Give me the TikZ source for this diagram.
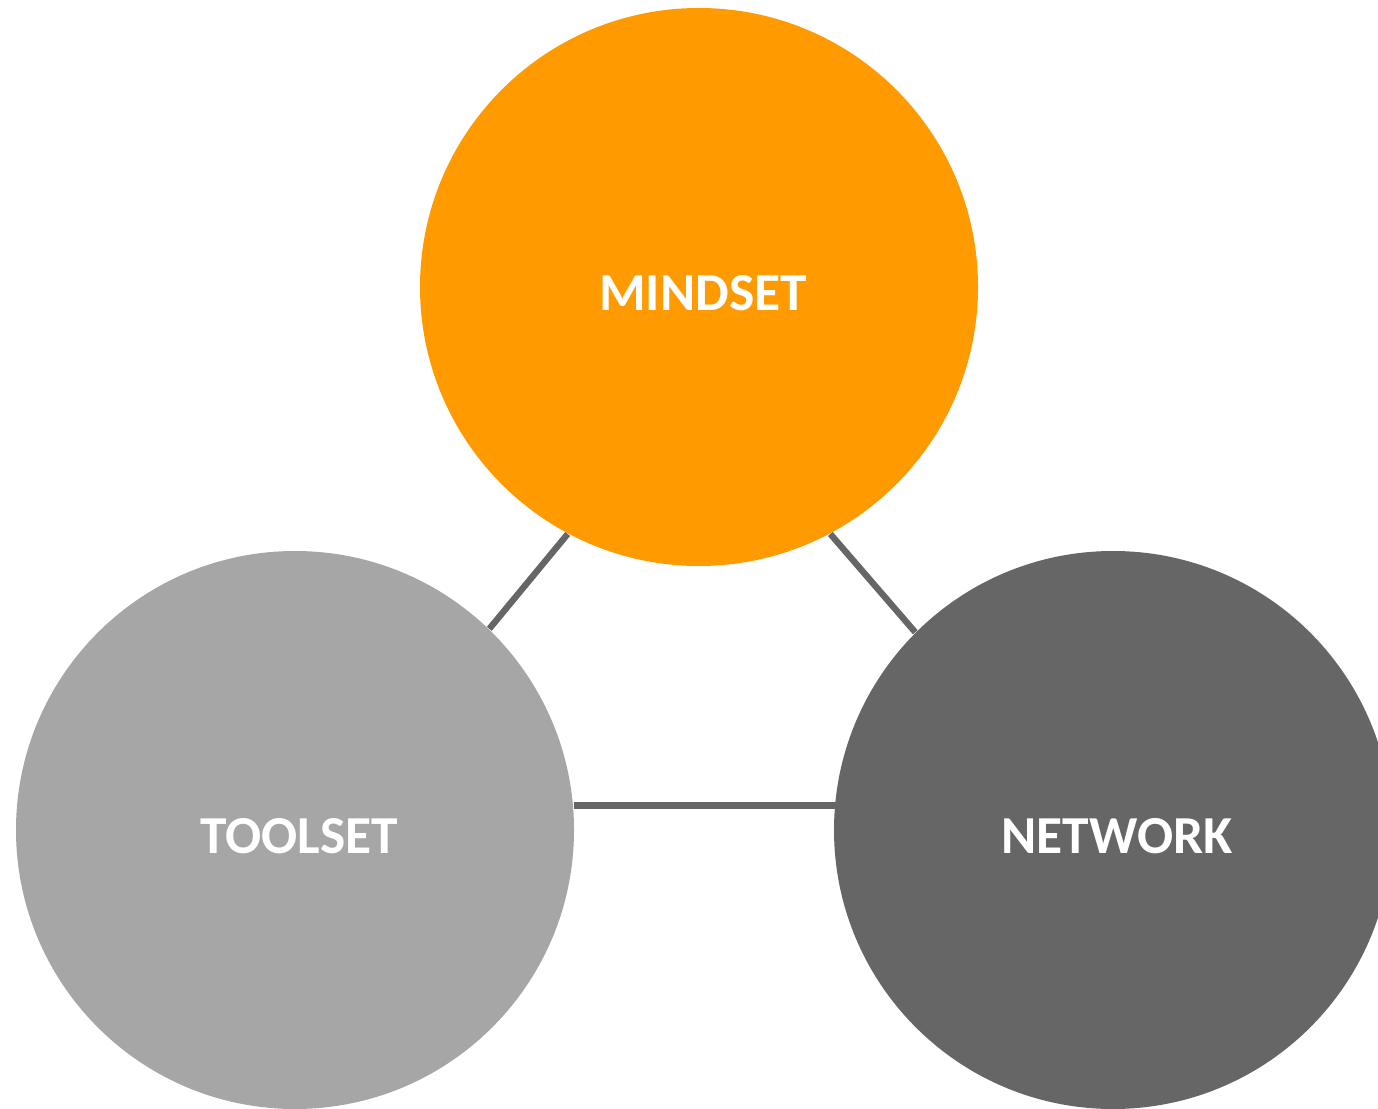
\documentclass[tikz,border=0pt]{standalone}
\usepackage{fontspec}
\setmainfont{Carlito}
\usepackage{tikz}

\definecolor{mindorange}{HTML}{FF9B00}
\definecolor{toollight}{HTML}{A6A6A6}
\definecolor{netdark}{HTML}{666666}

\tikzset{
	bubble/.style={circle, minimum size=5.58cm, inner sep=0pt, text=white, text height=0.47cm,
		font=\fontsize{15.2}{18}\selectfont\bfseries, execute at begin node=\hspace{0.08cm}},
	link/.style={netdark, line width=1.8pt}
}

\begin{document}
\begin{tikzpicture}
	\useasboundingbox (0,0) rectangle (13.78,11.08);
	\clip (0,0) rectangle (13.78,11.08);
	\node[bubble, fill=mindorange] (mind) at (6.99,8.21) {MINDSET};
	\node[bubble, fill=toollight] (tool) at (2.95,2.78) {TOOLSET};
	\node[bubble, fill=netdark] (net) at (11.13,2.78) {NETWORK};

	% links between the circles
	\draw[link](mind.242) -- (tool.46);
	\draw[link](mind.298) -- (net.135);
	\draw[link](tool.5.5) -- ([xshift=3pt]tool.5.5 -| net.west);
\end{tikzpicture}
\end{document}
